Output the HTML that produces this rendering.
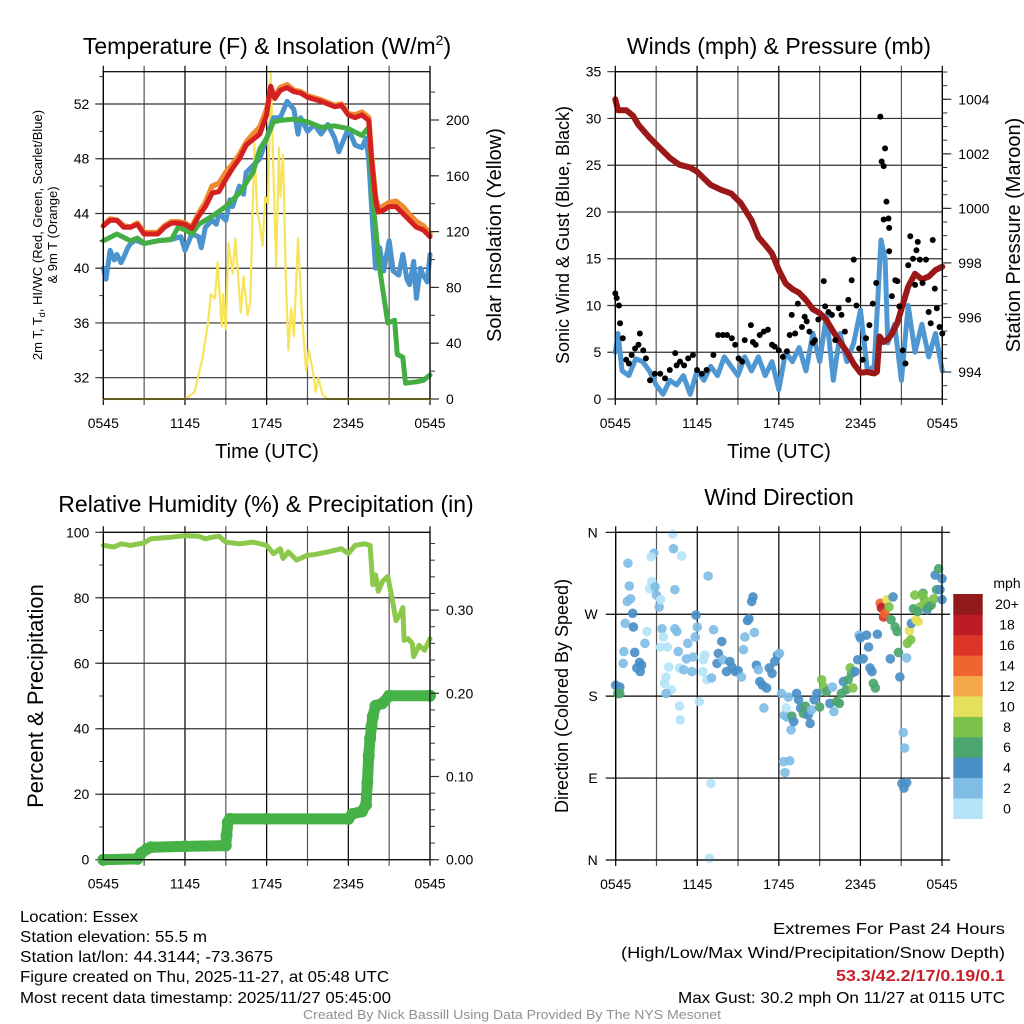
<!DOCTYPE html>
<html><head><meta charset="utf-8"><style>
html,body{margin:0;padding:0;background:#fff;}
svg{display:block;font-family:"Liberation Sans",sans-serif;}
</style></head><body>
<svg id="chart" width="1024" height="1024" viewBox="0 0 1024 1024" xmlns="http://www.w3.org/2000/svg">
<rect x="0" y="0" width="1024" height="1024" fill="#fff"/>
<g id="layer-grid"></g>
<g id="layer-data"></g>
<g id="layer-axes"></g>

<text x="267" y="54" font-size="23" text-anchor="middle">Temperature (F) &amp; Insolation (W/m<tspan font-size="14" dy="-9">2</tspan><tspan dy="9">)</tspan></text>
<text x="779" y="54" font-size="23" text-anchor="middle">Winds (mph) &amp; Pressure (mb)</text>
<text x="266" y="512" font-size="23" text-anchor="middle">Relative Humidity (%) &amp; Precipitation (in)</text>
<text x="779" y="505" font-size="23" text-anchor="middle">Wind Direction</text>

<text x="267" y="458" font-size="20" text-anchor="middle">Time (UTC)</text>
<text x="779" y="458" font-size="20" text-anchor="middle">Time (UTC)</text>

<text transform="translate(42,235) rotate(-90)" font-size="13" text-anchor="middle">2m T, T<tspan font-size="9" dy="3">d</tspan><tspan dy="-3">, HI/WC (Red, Green, Scarlet/Blue)</tspan></text>
<text transform="translate(57,235) rotate(-90)" font-size="13" text-anchor="middle">&amp; 9m T (Orange)</text>
<text transform="translate(501,235) rotate(-90)" font-size="20" text-anchor="middle">Solar Insolation (Yellow)</text>
<text transform="translate(569,235) rotate(-90)" font-size="18" text-anchor="middle">Sonic Wind &amp; Gust (Blue, Black)</text>
<text transform="translate(1020,235) rotate(-90)" font-size="20" text-anchor="middle">Station Pressure (Maroon)</text>
<text transform="translate(43,696) rotate(-90)" font-size="22" text-anchor="middle">Percent &amp; Precipitation</text>
<text transform="translate(568,696) rotate(-90)" font-size="18" text-anchor="middle">Direction (Colored By Speed)</text>

<g id="colorbar"></g>
<text x="1007" y="588" font-size="14" text-anchor="middle">mph</text>

<g font-size="16">
<text x="20" y="922" textLength="118" lengthAdjust="spacingAndGlyphs">Location: Essex</text>
<text x="20" y="942" textLength="187" lengthAdjust="spacingAndGlyphs">Station elevation: 55.5 m</text>
<text x="20" y="962" textLength="253" lengthAdjust="spacingAndGlyphs">Station lat/lon: 44.3144; -73.3675</text>
<text x="20" y="982" textLength="369" lengthAdjust="spacingAndGlyphs">Figure created on Thu, 2025-11-27, at 05:48 UTC</text>
<text x="20" y="1003" textLength="371" lengthAdjust="spacingAndGlyphs">Most recent data timestamp: 2025/11/27 05:45:00</text>
</g>
<g font-size="16">
<text x="773" y="934" textLength="232" lengthAdjust="spacingAndGlyphs">Extremes For Past 24 Hours</text>
<text x="621" y="958" textLength="384" lengthAdjust="spacingAndGlyphs">(High/Low/Max Wind/Precipitation/Snow Depth)</text>
<text x="836" y="981" textLength="169" lengthAdjust="spacingAndGlyphs" fill="#c8202a" font-weight="bold">53.3/42.2/17/0.19/0.1</text>
<text x="678" y="1003" textLength="327" lengthAdjust="spacingAndGlyphs">Max Gust: 30.2 mph On 11/27 at 0115 UTC</text>
</g>
<text x="303" y="1019" font-size="13" textLength="418" lengthAdjust="spacingAndGlyphs" fill="#909090">Created By Nick Bassill Using Data Provided By The NYS Mesonet</text>
</svg>
<script>
// ---------- data (hours since 0545 UTC) ----------
const xTickLabels = ["0545","1145","1745","2345","0545"];
const tempTicks = [32,36,40,44,48,52];
const solarTicks = [0,40,80,120,160,200];
const windTicks = [0,5,10,15,20,25,30,35];
const pressTicks = [994,996,998,1000,1002,1004];
const rhTicks = [0,20,40,60,80,100];
const precipTicks = [0.00,0.10,0.20,0.30];
const dirTickLabels = ["N","E","S","W","N"];
const dirTicks = [0,90,180,270,360];
const speedBinLabels = ["0","2","4","6","8","10","12","14","16","18","20+"];
const speedColors = ["#b5e4f7","#80bde6","#4a8fc6","#4ba56f","#7cc24a","#e5e05b","#f5a84a","#ef6530","#dd3428","#bc1d24","#921a1b"];

const tempRedH = [0,0.5,1,1.5,2,2.5,3,3.5,4,4.5,5,5.5,6,6.5,7,7.5,8,8.5,9,9.5,10,10.5,11,11.5,12,12.3,12.6,13,13.5,14,14.5,15,16,17,17.5,18,18.5,19,19.5,19.7,20,20.2,20.5,21,21.5,22,22.5,23,23.5,24];
const tempRed = [43.1,43.5,43.5,43.0,43.0,43.2,42.5,42.5,42.5,43.0,43.3,43.3,43.2,42.9,43.8,44.5,45.5,45.6,46.5,47.3,48.0,49.0,49.4,49.8,51.2,53.3,52.4,53.0,53.2,52.9,52.8,52.5,52.2,51.8,51.9,51.2,51.0,51.2,50.8,48,45,44.1,44.2,44.5,44.5,44.0,43.5,43.0,42.8,42.3];
const tempOrange = [43.1,43.6,43.5,43.1,43.0,43.3,42.6,42.6,42.6,43.1,43.4,43.4,43.3,43.0,44.0,44.8,46.0,46.2,47.0,47.6,48.3,49.2,49.8,50.3,51.6,53.0,52.6,53.2,53.4,53.0,52.9,52.6,52.3,51.9,52.0,51.3,51.2,51.4,51.0,48.2,45.2,44.3,44.5,44.8,44.9,44.5,43.9,43.4,43.1,42.5];
const dewH = [0,1,2,2.5,3,4,5,5.5,6,6.5,7,8,9,10,11,11.5,12,12.5,13,14,15,16,17,18,19,19.5,19.8,20.1,20.3,20.9,21.4,21.6,22,22.2,23,23.5,24];
const dewGreen = [42.0,42.5,42.0,42.2,41.8,42.0,42.1,43.0,42.8,42.5,43.2,43.8,44.5,45.5,47.0,48.7,49.5,50.7,50.8,50.9,50.7,50.3,50.4,50.2,49.7,50.3,45,42,40,36,36.2,33.7,33.5,31.6,31.7,31.8,32.2];
const chillH = [0,0.2,0.5,0.8,1.0,1.3,1.5,1.8,2.0,2.3,2.5,3.0,4.0,5.0,5.7,6.0,6.5,7.0,7.2,7.5,8.0,8.3,8.5,9.0,9.3,9.5,10.0,10.3,10.5,11.0,11.5,12.0,12.5,13.0,13.5,14.0,14.3,14.5,15.0,15.5,16.0,16.5,17.0,17.3,17.5,18.0,18.5,19.0,19.3,19.5,19.8,20.0,20.3,20.6,21.0,21.3,21.7,22.0,22.3,22.5,22.8,23.0,23.3,23.5,23.8,24.0];
const chillBlue = [40.0,39.2,41.3,40.6,41.0,40.4,40.8,41.5,41.8,42.0,42.0,41.8,42.0,42.1,42.3,41.3,42.5,42.3,41.5,43.0,43.5,43.2,44.0,43.5,45.0,44.5,46.0,45.4,47.0,47.5,48.0,49.5,51.0,51.0,52.2,51.6,49.8,51.0,50.0,50.5,49.8,50.5,49.5,48.5,49.0,50.2,49.0,48.8,49.5,48.0,43.0,40.0,41.5,39.8,42.0,39.8,39.5,41.0,39.2,38.8,40.5,37.8,40.0,39.5,39.0,41.0];
const solarH = [0,6,6.7,7.3,7.7,7.9,8.2,8.4,8.7,8.8,9,9.2,9.5,9.7,10.1,10.3,10.6,10.8,11.1,11.3,11.5,11.7,11.9,12.1,12.3,12.5,12.7,12.9,13.0,13.2,13.4,13.6,13.8,14.0,14.3,14.6,14.9,15.1,15.4,15.6,15.8,16.1,16.5,24];
const solar = [0,0,5,30,55,75,72,98,52,75,50,112,90,115,62,88,60,70,183,135,125,110,145,140,235,160,95,180,145,175,90,35,65,45,115,60,20,35,20,5,15,3,0,0];

const pressH = [0,0.2,0.8,1.3,1.7,2.5,3.3,4,4.7,5.5,6,6.5,7,7.8,8.5,9.2,10,10.5,11,11.5,12,12.5,13,13.5,14,14.5,15,15.5,16,16.5,17,17.5,18,18.5,19,19.2,19.4,19.7,20,20.3,20.7,21,21.5,22,22.5,23,23.5,24];
const pressure = [1004.0,1003.6,1003.6,1003.4,1003.06,1002.6,1002.2,1001.85,1001.6,1001.5,1001.35,1001.1,1000.86,1000.67,1000.55,1000.2,999.57,998.95,998.66,998.35,997.74,997.25,997.04,996.9,996.64,996.3,996.16,995.9,995.48,995.1,994.74,994.3,993.97,994.0,993.95,994.0,995.3,995.1,995.2,995.4,995.8,996.3,997.13,997.6,997.4,997.5,997.74,997.86];
const windH = [0,0.2,0.5,1,1.5,2,2.5,3,3.5,4,4.5,5,5.5,6,6.5,7,7.5,8,8.5,9,9.5,10,10.5,11,11.5,12,12.5,13,13.5,14,14.5,15,15.5,16,16.5,17,17.5,18,18.5,19,19.5,19.8,20,20.5,21,21.5,22,22.5,23,23.5,24];
const windSpeed = [5,7,3,2.5,4.3,4,3,1.5,0.5,2,1.5,2.5,0.5,3,2,3.5,2.5,4.5,3.5,2.5,4.5,3,4.5,2.5,4,1,5,4,5.5,3,7,4,9,2,7,4,6,9.5,3,3.5,17,15,6,8,2,10,5,8,4.5,7,3];
const gustH = [0,0.1,0.27,0.35,0.55,0.8,1,1.2,1.45,1.7,1.8,2.05,2.25,2.55,2.9,3.3,3.65,4,4.4,4.5,4.75,5.05,5.35,5.7,6,6.35,6.7,7.2,7.55,7.9,8.2,8.55,8.8,9.05,9.3,9.5,9.95,10.1,10.3,10.6,10.9,11.2,11.5,11.7,12,12.3,12.6,12.8,12.95,13.2,13.4,13.7,13.9,14.05,14.25,14.5,14.65,14.9,15.3,15.4,15.65,15.9,16.15,16.4,16.6,16.85,17.1,17.35,17.5,17.7,17.9,18.15,18.4,18.65,18.9,19.15,19.45,19.55,19.7,19.8,19.9,19.7,20.05,20.1,20.1,20.3,20.55,20.7,20.85,21.1,21.3,21.5,21.65,21.85,22,22.1,22.2,22.35,22.55,22.8,23,23.15,23.3,23.45,23.6,23.8,24];
const gustSpeed = [11.3,10.8,10,8.1,6.5,4.2,3.8,4.7,5.4,5.8,7,5.2,4.35,2,2.7,2.7,2.2,3.1,4.9,3.6,4,3.6,4.35,4.7,3.1,2.7,3.1,4.7,6.85,6.85,6.85,6.5,5.8,4.35,4,6.3,7.9,6.1,5.8,6.85,7.2,7.4,5.8,5.6,5.2,4.5,5.1,6.85,9,7,10.2,7.7,8.8,8.3,7.2,6,6.3,8.5,12.6,9.9,9.3,9,6.3,9.7,9,7.2,10.6,12.7,14.9,10,5.4,4.2,6.5,7.9,10.2,12.4,30.2,25.4,24.9,26.8,21.1,19.2,19.3,18.3,15.8,11,12.7,12.6,9.9,5.2,3.8,14.3,17.4,15,12.2,15.9,16.8,14.9,12.4,14.9,9.3,8.1,17,11.8,9.7,7.7,7];

const rhH = [0,0.8,1.3,2,3,3.5,5,6,7,7.5,8,8.5,9,10,11,12,12.5,13,13.2,13.6,14.2,15,15.5,16.5,17.5,18,18.5,19.2,19.6,19.8,20,20.2,20.5,20.9,21.3,21.5,21.8,22,22.1,22.4,22.7,22.8,23.2,23.6,24];
const rh = [96,95.5,96.5,96,96.8,98,98.5,99,98.8,98,98.5,98.8,97,96.5,97,96,93.5,95,92,94,91.5,93,93.2,94,95,93.5,96,96.5,96,84,87,82,85,86.5,78,73,75,77,67,67.5,66,62,65.5,64,67.5];
const precipH = [0,2.5,2.8,3.2,3.5,6,9,9.05,9.15,9.3,12,18,18.3,19,19.3,19.4,19.5,19.6,19.7,19.8,20,20.5,21,24];
const precip = [0.0,0.001,0.008,0.013,0.015,0.016,0.017,0.029,0.045,0.049,0.049,0.049,0.055,0.058,0.066,0.093,0.125,0.146,0.16,0.172,0.185,0.188,0.197,0.197];

const dirH = [0,0.3,0.15,0.3,0.55,0.6,0.7,0.85,1.0,0.9,1.1,1.25,1.3,1.4,1.55,1.8,1.9,1.75,2.15,2.3,2.5,2.65,2.8,2.6,2.9,3.0,3.2,3.3,3.4,3.3,3.5,3.8,3.9,3.7,3.6,4.1,3.7,4.2,4.25,4.85,4.35,4.35,4.5,4.6,4.7,4.7,4.75,5.0,5.2,5.3,5.6,5.7,5.85,5.9,6.0,6.15,6.45,6.55,6.4,6.7,6.8,7.0,6.9,7.05,7.2,7.45,7.55,7.8,7.9,8.15,8.4,8.55,8.8,9.0,9.25,9.4,9.5,9.7,9.8,10.0,10.1,10.2,10.35,10.5,10.6,10.8,10.9,11.1,11.3,11.5,11.7,11.9,12.05,12.2,12.4,12.55,12.6,12.7,12.9,12.35,12.8,12.45,12.95,13.1,13.3,13.45,13.6,13.8,13.95,14.15,14.3,14.4,14.6,14.8,15.0,15.15,15.3,15.5,15.75,15.95,16.05,16.25,16.45,16.6,16.75,16.95,17.1,17.35,17.45,17.25,17.6,17.8,17.9,18.0,18.2,18.45,18.6,18.7,18.85,18.95,19.1,19.25,19.45,19.55,19.7,19.8,19.95,20.1,20.25,20.4,20.55,20.7,20.8,20.2,20.9,21.15,21.25,21.05,21.2,21.4,21.4,21.45,21.6,21.7,21.75,21.9,22.0,22.1,22.25,22.4,22.6,22.7,22.9,23.0,23.2,23.4,23.5,23.6,23.75,23.85,24.0,24.0,22.55,22.2];
const dirDeg = [192,190,183,183,216,229,260,284,301,326,287,271,256,228,211,207,214,217,238,251,298,306,337,333,300,291,278,286,254,234,245,234,212,201,194,187,183,358,342,334,297,254,251,229,211,169,154,209,221,238,207,223,245,269,256,174,220,225,207,198,312,84,2,200,253,216,227,240,220,207,218,212,207,208,201,231,245,263,265,284,289,250,214,209,196,192,167,189,211,205,218,225,227,183,159,167,157,179,143,108,109,96,158,152,183,176,167,161,169,159,150,165,176,183,168,198,190,185,172,190,163,174,172,183,196,187,198,205,189,211,207,220,247,244,221,247,234,211,207,194,189,248,282,277,267,271,286,278,264,289,256,251,228,221,201,140,123,84,79,85,222,238,252,242,260,276,291,264,262,278,293,286,275,278,280,287,313,297,320,297,309,286,291,273];
const dirSpeed = [4,4,6,6,3,3,2.5,2.5,3,3,2.5,4,4.5,4.5,4.5,5,4.5,4,3,1.5,1.5,1.5,2.5,1.5,3,3,3,1.5,3,1.5,1,1,1,1,1,1,3,1,3,1,3,3,3,3,1,1,1,3.5,3.5,3,3,3.5,3,4,3,1,1,1,1,1,3,1,1,3,3,4,4,4,3,4,4,4,4,4,3,3,3,4,4.5,4,4,3,4,3,4,4,3,4,4,4,4,4,3,2,2,1,3,3,2,2,2,3,6,4,4,4,4,6,7,4,4,3,4,4,6,8,8,6,4,3,3,6,6,6,4,6,6,6,8,8,4,4,3,4,4,4,4,4,4,6,6,4,14,18,16,14,10,8,6,4,6,6,6,4,4,2,2,4,4,4,2,8,10,8,4,6,8,10,10,8,6,8,4,6,6,8,4,6,6,4,4,4,8,6];

// ---------- layout ----------
const NS = "http://www.w3.org/2000/svg";
const gGrid = document.getElementById("layer-grid");
const gData = document.getElementById("layer-data");
const gAx = document.getElementById("layer-axes");
function mk(tag, attrs, parent){const e=document.createElementNS(NS,tag);for(const k in attrs)e.setAttribute(k,attrs[k]);parent.appendChild(e);return e;}
function lin(d0,d1,r0,r1){return v=>r0+(v-d0)/(d1-d0)*(r1-r0);}

const P1={x0:103.3,x1:430,y0:71.7,y1:399};
const P2={x0:615.3,x1:942.3,y0:71.7,y1:399};
const P3={x0:103.3,x1:430,y0:532.3,y1:859.7};
const P4={x0:615.7,x1:942,y0:532.3,y1:860};

const x1s=lin(0,24,P1.x0,P1.x1), x2s=lin(0,24,P2.x0,P2.x1), x3s=lin(0,24,P3.x0,P3.x1), x4s=lin(0,24,P4.x0,P4.x1);
const tempY=lin(32,52,377.7,104), solarY=lin(0,200,399,120);
const windY=lin(0,35,399,71.7), pressY=lin(994,1004,372,99.3);
const rhY=lin(0,100,859.7,532.3), precipY=lin(0,0.2,859.7,693.3);
const dirY=lin(0,360,860,532.3);

function panelFrame(P,xs,name){
  for(let h=0;h<=24;h+=3){
    const x=xs(h);
    const l=mk("line",{x1:x,x2:x,y1:P.y0-6,y2:P.y1+6,stroke:(h%6===0)?"#000":"#555","stroke-width":1.2},gGrid);
    
    
  }
  const r=mk("rect",{x:P.x0,y:P.y0,width:P.x1-P.x0,height:P.y1-P.y0,fill:"none",stroke:"#000","stroke-width":1.2},gAx);
  
  
  xTickLabels.forEach((lab,i)=>{
    const t=mk("text",{x:xs(i*6),y:P.y1+29,"font-size":14,"text-anchor":"middle"},gAx);
    t.textContent=lab;
    
    
  });
}
function leftAxis(P,ticks,ys,fmt,name,minorStep){
  ticks.forEach(v=>{
    const y=ys(v);
    const g=mk("line",{x1:P.x0-8,x2:P.x1,y1:y,y2:y,stroke:"#333","stroke-width":1.2},gGrid);
    
    
    const t=mk("text",{x:P.x0-14,y:y+5,"font-size":14,"text-anchor":"end"},gAx);
    t.textContent=fmt(v);
    
    
  });
  if(minorStep){
    const lo=ticks[0]-minorStep*20, hi=ticks[ticks.length-1]+minorStep*20;
    for(let v=lo;v<=hi+1e-9;v+=minorStep){
      const y=ys(v); if(y<P.y0-0.5||y>P.y1+0.5) continue;
      const m=mk("line",{x1:P.x0-4,x2:P.x0,y1:y,y2:y,stroke:"#333","stroke-width":1},gAx);
      
      
    }
  }
}
function rightAxis(P,ticks,ys,fmt,name,minorStep){
  ticks.forEach(v=>{
    const y=ys(v);
    const g=mk("line",{x1:P.x1,x2:P.x1+9,y1:y,y2:y,stroke:"#333","stroke-width":1.2},gAx);
    
    
    const t=mk("text",{x:P.x1+16,y:y+5,"font-size":14,"text-anchor":"start"},gAx);
    t.textContent=fmt(v);
    
    
  });
  if(minorStep){
    const lo=ticks[0]-minorStep*20, hi=ticks[ticks.length-1]+minorStep*20;
    for(let v=lo;v<=hi+1e-9;v+=minorStep){
      const y=ys(v); if(y<P.y0-0.5||y>P.y1+0.5) continue;
      const m=mk("line",{x1:P.x1,x2:P.x1+5,y1:y,y2:y,stroke:"#333","stroke-width":1},gAx);
      
      
    }
  }
}
function pathOf(hs,vs,xs,ys){return hs.map((h,i)=>(i?"L":"M")+xs(h).toFixed(1)+","+ys(vs[i]).toFixed(1)).join("");}
function line(hs,vs,xs,ys,color,w,name){
  const p=mk("path",{d:pathOf(hs,vs,xs,ys),fill:"none",stroke:color,"stroke-width":w,"stroke-linejoin":"round","stroke-linecap":"round"},gData);
  
  
  return p;
}

// ---------- panel 1 ----------
panelFrame(P1,x1s,"temperature");
leftAxis(P1,tempTicks,tempY,v=>String(v),"temperature",2);
rightAxis(P1,solarTicks,solarY,v=>String(v),"solar",20);
line(solarH,solar,x1s,solarY,"#f7e45a",2.2,"solar-insolation-line");
line(chillH,chillBlue,x1s,tempY,"#4a93cf",5,"wind-chill-line");
line(dewH,dewGreen,x1s,tempY,"#44ad44",5,"dewpoint-line");
line(tempRedH,tempOrange,x1s,tempY,"#f08a30",5.5,"9m-temperature-line");
line(tempRedH,tempRed,x1s,tempY,"#d42020",5,"2m-temperature-line");

// ---------- panel 2 ----------
panelFrame(P2,x2s,"winds");
leftAxis(P2,windTicks,windY,v=>String(v),"winds",null);
rightAxis(P2,pressTicks,pressY,v=>String(v),"pressure",0.5);
line(windH,windSpeed,x2s,windY,"#4f97d2",5,"sonic-wind-line");
line(pressH,pressure,x2s,pressY,"#9b1818",6,"station-pressure-line");
gustH.forEach((h,i)=>{
  const c=mk("circle",{cx:x2s(h),cy:windY(gustSpeed[i]),r:3,fill:"#000"},gData);
  
  
});

// ---------- panel 3 ----------
panelFrame(P3,x3s,"humidity");
leftAxis(P3,rhTicks,rhY,v=>String(v),"humidity",10);
rightAxis(P3,precipTicks,precipY,v=>v.toFixed(2),"precip",0.02);
line(rhH,rh,x3s,rhY,"#8cc84b",5,"relative-humidity-line");
line(precipH,precip,x3s,precipY,"#46b146",11,"precipitation-line");
precipH.forEach((h,i)=>{
  const c=mk("circle",{cx:x3s(h),cy:precipY(precip[i]),r:6,fill:"#46b146"},gData);
  
  
});

// ---------- panel 4 ----------
panelFrame(P4,x4s,"direction");
dirTicks.forEach((v,i)=>{
  const y=dirY(v);
  const g=mk("line",{x1:P4.x0-10,x2:P4.x1+8,y1:y,y2:y,stroke:"#000","stroke-width":1.2},gGrid);
  
  
  const t=mk("text",{x:P4.x0-18,y:y+5,"font-size":14,"text-anchor":"end"},gAx);
  t.textContent=dirTickLabels[i];
  
  
});
function speedColor(s){return speedColors[Math.min(10,Math.floor(s/2))];}
dirH.forEach((h,i)=>{
  const c=mk("circle",{cx:x4s(h),cy:dirY(dirDeg[i]),r:4.8,fill:speedColor(dirSpeed[i]),"fill-opacity":0.92},gData);
  
  
});
const cb=document.getElementById("colorbar");
const cbTop=594, cbBot=818.7, cbH=(cbBot-cbTop)/speedColors.length;
speedColors.forEach((col,i)=>{
  const y=cbBot-(i+1)*cbH;
  const r=mk("rect",{x:953.3,y:y,width:29.4,height:cbH+0.3,fill:col},cb);
  
  
  const t=mk("text",{x:1007,y:y+cbH/2+5,"font-size":14,"text-anchor":"middle"},cb);
  t.textContent=speedBinLabels[i];
  
  
});
</script>
</body></html>
